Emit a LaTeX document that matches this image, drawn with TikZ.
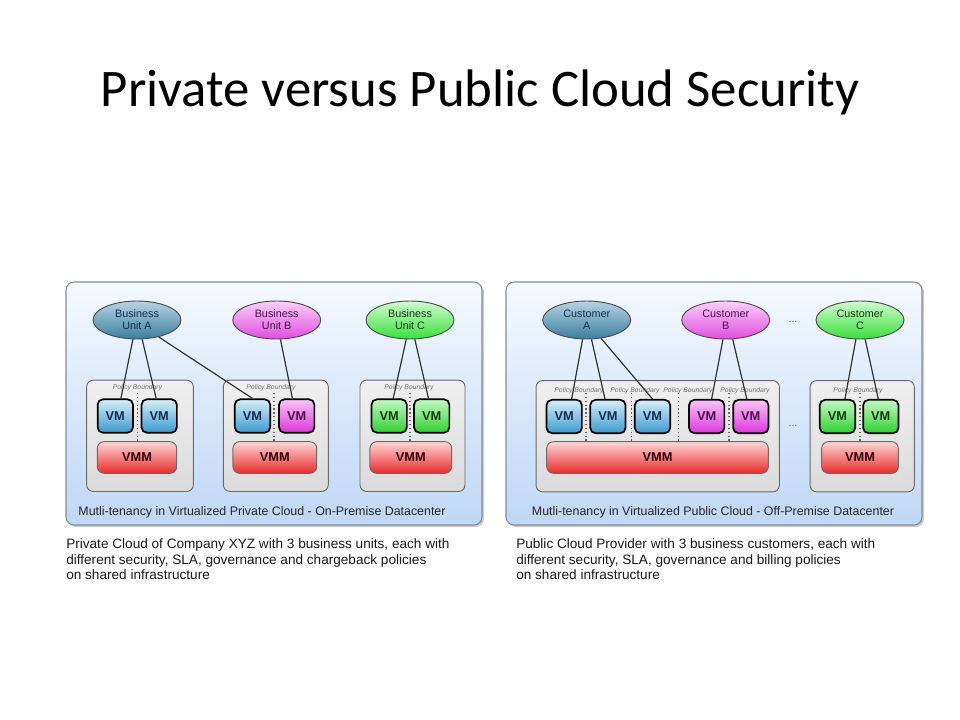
\documentclass[tikz,border=0pt]{standalone}
\usepackage{fontspec}
\setmainfont{Liberation Sans}
\newfontfamily\titlefont{Carlito}
\usetikzlibrary{shapes.geometric,shadows,calc}
\definecolor{panelTop}{HTML}{F5F9FE}
\definecolor{panelBot}{HTML}{BFD7F5}
\definecolor{panelEdge}{HTML}{868B92}
\definecolor{boxFill}{HTML}{E6E6E6}
\definecolor{boxEdge}{HTML}{6A6A6A}
\definecolor{blueTop}{HTML}{D6EEF9}
\definecolor{blueBot}{HTML}{3A9BD0}
\definecolor{magTop}{HTML}{F9C4F9}
\definecolor{magBot}{HTML}{DD36DD}
\definecolor{grnTop}{HTML}{C4F9C4}
\definecolor{grnBot}{HTML}{2ED02E}
\definecolor{redTop}{HTML}{FFD6D6}
\definecolor{redBot}{HTML}{EA2B2B}
\definecolor{ellATop}{HTML}{B5D3E3}
\definecolor{ellABot}{HTML}{3C7F9E}
\definecolor{ellBTop}{HTML}{FAD0FA}
\definecolor{ellBBot}{HTML}{E04CE0}
\definecolor{ellCTop}{HTML}{D0FBD0}
\definecolor{ellCBot}{HTML}{3ADF3A}
\definecolor{txtA}{HTML}{142E50}
\definecolor{txtB}{HTML}{4A104A}
\definecolor{txtC}{HTML}{123A12}
\definecolor{lineCol}{HTML}{333333}
\tikzset{
  panel/.style={draw=panelEdge, line width=0.8pt, rounded corners=6pt, top color=panelTop, bottom color=panelBot,
    drop shadow={shadow xshift=1.5pt, shadow yshift=-1.5pt, opacity=0.4}, minimum width=312pt, minimum height=182.25pt, inner sep=0pt},
  pbox/.style={draw=boxEdge, line width=0.7pt, rounded corners=5pt, top color=boxFill!60!white, bottom color=boxFill!95!black, minimum height=83.5pt, inner sep=0pt},
  vmbox/.style={draw=black, line width=1.3pt, rounded corners=4pt, minimum width=26.5pt, minimum height=25pt, inner sep=0pt, font=\bfseries\fontsize{9.6}{10}\selectfont},
  vmblue/.style={vmbox, top color=blueTop, bottom color=blueBot, text=txtA},
  vmmag/.style={vmbox, top color=magTop, bottom color=magBot, text=txtB},
  vmgrn/.style={vmbox, top color=grnTop, bottom color=grnBot, text=txtC},
  vmmbox/.style={draw=boxEdge, line width=0.7pt, rounded corners=5pt, top color=redTop, bottom color=redBot, minimum height=23.7pt, inner sep=0pt, text=black!80!red, font=\bfseries\fontsize{9.6}{10}\selectfont},
  ell/.style={ellipse, draw=black!70, line width=0.7pt, minimum width=66pt, minimum height=28.5pt, inner sep=0pt, align=center, font=\fontsize{8.1}{8.8}\selectfont},
  ellA/.style={ell, top color=ellATop, bottom color=ellABot, text=txtA},
  ellB/.style={ell, top color=ellBTop, bottom color=ellBBot, text=txtB},
  ellC/.style={ell, top color=ellCTop, bottom color=ellCBot, text=txtC},
  conn/.style={draw=lineCol, line width=0.9pt},
  pbl/.style={font=\fontsize{5.1}{5.5}\itshape\selectfont, text=black!55, inner sep=0pt},
  pbline/.style={draw=black!60, line width=0.9pt, dotted},
  captext/.style={font=\fontsize{9.3}{10}\selectfont, text=black!85, inner sep=0pt},
  desc/.style={font=\fontsize{10.2}{11.6}\selectfont, align=left, anchor=north west, inner sep=0pt, text=black!90},
  dots/.style={font=\fontsize{8}{8}\selectfont, text=black!60, inner sep=0pt}
}
\begin{document}
\begin{tikzpicture}[x=0.75pt, y=-0.75pt]
\useasboundingbox[fill=white] (0,0) rectangle (960,720);

% title
\node[font=\titlefont\fontsize{39.6}{40}\selectfont, inner sep=0pt] (title) at (480,92) {Private versus Public Cloud Security};

% ================= LEFT PANEL =================
\node[panel] (panL) at (274,403.5) {};
\node[pbox, minimum width=80pt] (bx1) at (140,435.8) {};
\node[pbox, minimum width=78.75pt] (bx2) at (275.8,435.8) {};
\node[pbox, minimum width=78.75pt] (bx3) at (412.5,435.8) {};

\node[pbl] (pl1) at (137.5,388) {Policy Boundary};
\node[pbl] (pl2) at (271,388) {Policy Boundary};
\node[pbl] (pl3) at (409,388) {Policy Boundary};
\coordinate (d1a) at (137.3,393); \coordinate (d1b) at (137.3,441);
\coordinate (d2a) at (274,393);   \coordinate (d2b) at (274,441);
\coordinate (d3a) at (410,393);   \coordinate (d3b) at (410,441);
\draw[pbline] (d1a) -- (d1b);
\draw[pbline] (d2a) -- (d2b);
\draw[pbline] (d3a) -- (d3b);

\node[vmblue] (vl1) at (115.3,416) {VM};
\node[vmblue] (vl2) at (159.2,416) {VM};
\node[vmblue] (vl3) at (252.5,416) {VM};
\node[vmmag]  (vl4) at (296.7,416) {VM};
\node[vmgrn]  (vl5) at (389.2,416) {VM};
\node[vmgrn]  (vl6) at (431.7,416) {VM};

\node[vmmbox, minimum width=59.5pt] (ml1) at (137,457.5) {VMM};
\node[vmmbox, minimum width=62.8pt] (ml2) at (274.8,457.5) {VMM};
\node[vmmbox, minimum width=61.3pt] (ml3) at (410.8,457.5) {VMM};

\node[ellA] (bua) at (137,320) {Business\\Unit A};
\node[ellB] (bub) at (276.7,320) {Business\\Unit B};
\node[ellC] (buc) at (410,320) {Business\\Unit C};

\draw[conn] (bua.258) -- ([xshift=4.2pt]vl1.north);
\draw[conn] (bua.285) -- ([xshift=-2.3pt]vl2.north);
\draw[conn] (bua.322) -- (vl3.north);
\draw[conn] (bub.281) -- ([xshift=-3.2pt]vl4.north);
\draw[conn] (buc.259) -- ([xshift=3pt]vl5.north);
\draw[conn] (buc.284) -- ([xshift=-2.4pt]vl6.north);

\node[captext] (capL) at (262,512) {Mutli-tenancy in Virtualized Private Cloud - On-Premise Datacenter};

% ================= RIGHT PANEL =================
\node[panel] (panR) at (714,403.5) {};
\node[pbox, minimum width=182.5pt] (bx4) at (657.7,436.2) {};
\node[pbox, minimum width=78.2pt] (bx5) at (862.2,436.2) {};

\node[pbl] (pr1) at (579,390.7) {Policy Boundary};
\node[pbl] (pr2) at (635,390.7) {Policy Boundary};
\node[pbl] (pr3) at (688,390.7) {Policy Boundary};
\node[pbl] (pr4) at (745,390.7) {Policy Boundary};
\node[pbl] (pr5) at (858,390.7) {Policy Boundary};
\coordinate (e1a) at (586,393);   \coordinate (e1b) at (586,441);
\coordinate (e2a) at (631.7,393); \coordinate (e2b) at (631.7,441);
\coordinate (e3a) at (678.3,393); \coordinate (e3b) at (678.3,441);
\coordinate (e4a) at (729,393);   \coordinate (e4b) at (729,441);
\coordinate (e5a) at (860,393);   \coordinate (e5b) at (860,441);
\draw[pbline] (e1a) -- (e1b);
\draw[pbline] (e2a) -- (e2b);
\draw[pbline] (e3a) -- (e3b);
\draw[pbline] (e4a) -- (e4b);
\draw[pbline] (e5a) -- (e5b);

\node[vmblue] (vr1) at (564.2,416.5) {VM};
\node[vmblue] (vr2) at (607.9,416.5) {VM};
\node[vmblue] (vr3) at (652.5,416.5) {VM};
\node[vmmag]  (vr4) at (706.7,416.5) {VM};
\node[vmmag]  (vr5) at (750.8,416.5) {VM};
\node[vmgrn]  (vr6) at (837.5,416.5) {VM};
\node[vmgrn]  (vr7) at (880.8,416.5) {VM};

\node[vmmbox, minimum width=166.2pt] (mr1) at (657.5,457.5) {VMM};
\node[vmmbox, minimum width=57.5pt] (mr2) at (860,457.5) {VMM};

\node[ellA] (cua) at (586.7,320) {Customer\\A};
\node[ellB] (cub) at (725.7,320) {Customer\\B};
\node[ellC] (cuc) at (860,320) {Customer\\C};
\node[dots] (dt1) at (793,322) {...};
\node[dots] (dt2) at (793,426) {...};

\draw[conn] (cua.258) -- ([xshift=5.6pt]vr1.north);
\draw[conn] (cua.284) -- ([xshift=-2.2pt]vr2.north);
\draw[conn] (cua.308) -- (vr3.north);
\draw[conn] (cub.262) -- ([xshift=3.7pt]vr4.north);
\draw[conn] (cub.290) -- ([xshift=-3pt]vr5.north);
\draw[conn] (cuc.258) -- ([xshift=5.6pt]vr6.north);
\draw[conn] (cuc.285) -- ([xshift=-1.9pt]vr7.north);

\node[captext] (capR) at (713,512) {Mutli-tenancy in Virtualized Public Cloud - Off-Premise Datacenter};

% descriptions
\node[desc] (dL) at (66,538.5) {Private Cloud of Company XYZ with 3 business units, each with\\different security, SLA, governance and chargeback policies\\on shared infrastructure};
\node[desc] (dR) at (516,538.5) {Public Cloud Provider with 3 business customers, each with\\different security, SLA, governance and billing policies\\on shared infrastructure};
\end{tikzpicture}
\end{document}
